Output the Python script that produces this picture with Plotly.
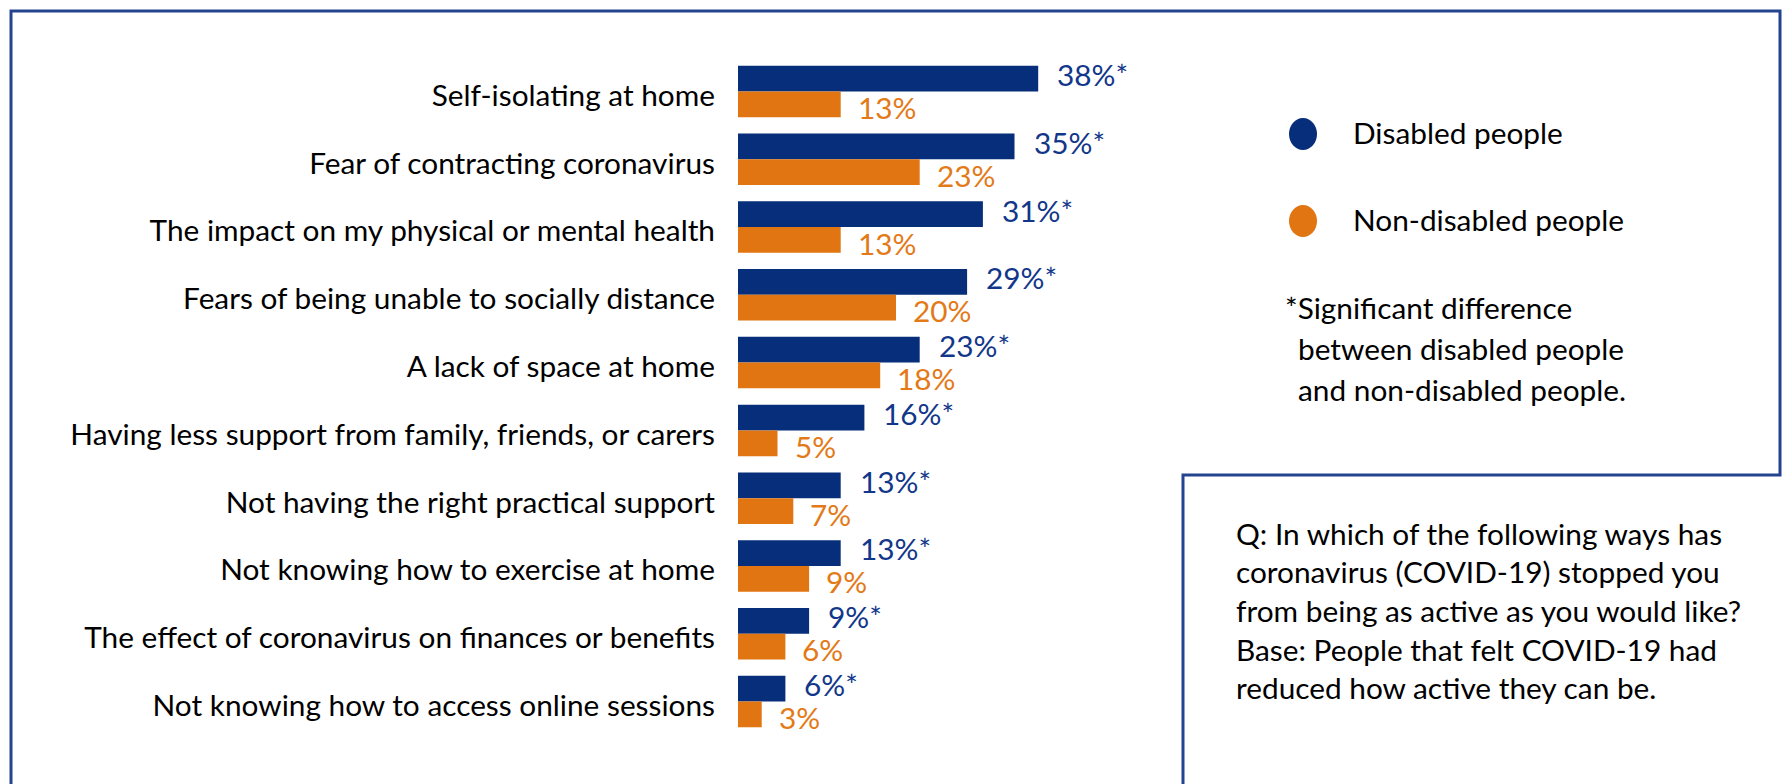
import plotly.graph_objects as go

categories = [
    "Self-isolating at home",
    "Fear of contracting coronavirus",
    "The impact on my physical or mental health",
    "Fears of being unable to socially distance",
    "A lack of space at home",
    "Having less support from family, friends, or carers",
    "Not having the right practical support",
    "Not knowing how to exercise at home",
    "The effect of coronavirus on finances or benefits",
    "Not knowing how to access online sessions",
]
disabled = [38, 35, 31, 29, 23, 16, 13, 13, 9, 6]
non_disabled = [13, 23, 13, 20, 18, 5, 7, 9, 6, 3]
disabled_labels = [f"{v}%*" for v in disabled]
non_disabled_labels = [f"{v}%" for v in non_disabled]

series_names = ["Disabled people", "Non-disabled people"]
note_lines = ["*Significant difference", "between disabled people", "and non-disabled people."]
question_lines = [
    "Q: In which of the following ways has",
    "coronavirus (COVID-19) stopped you",
    "from being as active as you would like?",
    "Base: People that felt COVID-19 had",
    "reduced how active they can be.",
]

W, H = 1783, 784
BLUE = "#062E7A"
ORANGE = "#E07511"
BLUE_TXT = "#12378A"
ORANGE_TXT = "#E37A17"
BORDER = "#24448F"
FONT = "Lato"
FS = 29.8


def px(x):
    return x / W


def py(y):
    return 1 - y / H


fig = go.Figure()
fig.add_trace(go.Bar(y=categories, x=disabled, orientation="h", name=series_names[0],
                     marker=dict(color=BLUE, line=dict(width=0)), showlegend=False))
fig.add_trace(go.Bar(y=categories, x=non_disabled, orientation="h", name=series_names[1],
                     marker=dict(color=ORANGE, line=dict(width=0)), showlegend=False))

annotations = []
for c, v, t in zip(categories, disabled, disabled_labels):
    annotations.append(dict(x=v, y=c, xref="x", yref="y", text=t, showarrow=False,
                            xanchor="left", yanchor="middle", xshift=17, yshift=17,
                            font=dict(family=FONT, size=FS, color=BLUE_TXT)))
for c, v, t in zip(categories, non_disabled, non_disabled_labels):
    annotations.append(dict(x=v, y=c, xref="x", yref="y", text=t, showarrow=False,
                            xanchor="left", yanchor="middle", xshift=15, yshift=-16,
                            font=dict(family=FONT, size=FS, color=ORANGE_TXT)))

# legend text
for name, yy in zip(series_names, [132, 219]):
    annotations.append(dict(x=px(1351), y=py(yy), xref="paper", yref="paper", text=name,
                            showarrow=False, xanchor="left", yanchor="middle",
                            font=dict(family=FONT, size=FS, color="#000000")))
# note
for i, (line, xx) in enumerate(zip(note_lines, [1283, 1296, 1296])):
    annotations.append(dict(x=px(xx), y=py(308 + i * 40.5), xref="paper", yref="paper", text=line,
                            showarrow=False, xanchor="left", yanchor="middle",
                            font=dict(family=FONT, size=FS, color="#000000")))
# question box
for i, line in enumerate(question_lines):
    annotations.append(dict(x=px(1234), y=py(533 + i * 38.7), xref="paper", yref="paper", text=line,
                            showarrow=False, xanchor="left", yanchor="middle",
                            font=dict(family=FONT, size=FS, color="#000000")))

shapes = [
    # legend markers
    dict(type="circle", xref="paper", yref="paper", x0=px(1289), x1=px(1317), y0=py(118), y1=py(150),
         fillcolor=BLUE, line=dict(width=0)),
    dict(type="circle", xref="paper", yref="paper", x0=px(1289), x1=px(1317), y0=py(205), y1=py(237),
         fillcolor=ORANGE, line=dict(width=0)),
    # outer frame
    dict(type="path", xref="paper", yref="paper",
         path=f"M {px(11)},{py(790)} L {px(11)},{py(11)} L {px(1780)},{py(11)} L {px(1780)},{py(475)} "
              f"L {px(1183)},{py(475)} L {px(1183)},{py(790)}",
         line=dict(color=BORDER, width=3)),
]

x0_px, x1_px, per_pct = 738, 1183, 7.9
y_top_px, y_bot_px = 56, 738

fig.update_layout(
    width=W, height=H,
    margin=dict(l=0, r=0, t=0, b=0),
    paper_bgcolor="white", plot_bgcolor="white",
    barmode="group", bargap=0.24, bargroupgap=0,
    xaxis=dict(domain=[px(x0_px), px(x1_px)], range=[0, (x1_px - x0_px) / per_pct],
               visible=False, automargin=False),
    yaxis=dict(domain=[py(y_bot_px), py(y_top_px)], autorange="reversed", automargin=False,
               showgrid=False, zeroline=False, showline=False, ticks="",
               ticklabelstandoff=22, ticklabelshift=-4,
               tickfont=dict(family=FONT, size=FS, color="#000000")),
    annotations=annotations,
    shapes=shapes,
    showlegend=False,
)

fig.write_html("out.html", config={"displayModeBar": False},
               post_script="document.body.style.margin='0';document.body.style.overflow='hidden';")
